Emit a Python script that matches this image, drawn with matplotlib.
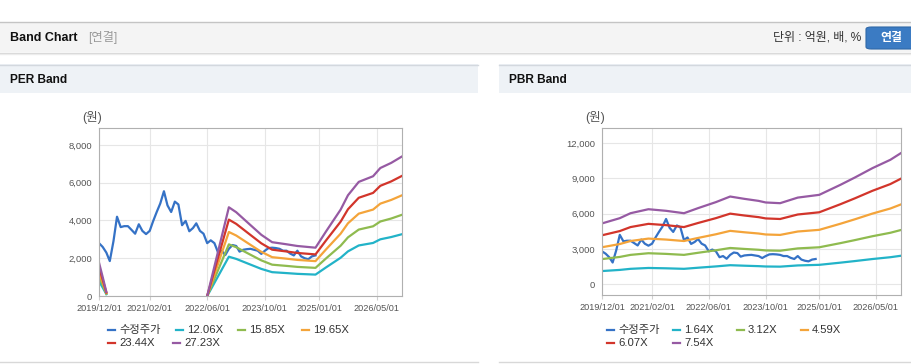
import pandas as pd
import numpy as np
import matplotlib
matplotlib.use('Agg')
import matplotlib.pyplot as plt
from matplotlib.patches import Rectangle, FancyBboxPatch
from matplotlib.lines import Line2D
from matplotlib.ticker import FuncFormatter

plt.rcParams['font.family'] = ['Liberation Sans', 'Noto Sans CJK KR']

# ---- 데이터 ----
# 수정주가 (월별, 2019/12 ~ 2024/12)
price_start = '2019-12-01'
price = [2800, 2600, 2300, 1850, 2900, 4200, 3650, 3700, 3700, 3500,
         3300, 3800, 3450, 3280, 3450, 3950, 4450, 4900, 5550, 4800,
         4450, 5000, 4850, 3750, 3980, 3430, 3600, 3850, 3450, 3300,
         2800, 2950, 2800, 2300, 2400, 2170, 2500, 2700, 2650, 2350,
         2450, 2480, 2500, 2450, 2400, 2230, 2400, 2540, 2560, 2540,
         2500, 2400, 2400, 2250, 2150, 2400, 2100, 2000, 1950, 2100, 2150]

# PER 밴드: EPS(원) x 배수
per_multiples = [12.06, 15.85, 19.65, 23.44, 27.23]
per_dates = ['2019-12-01', '2020-01-01', '2020-02-01', '2020-03-01',
             '2022-06-01', '2022-12-01', '2023-02-01', '2023-06-01', '2023-09-01',
             '2023-12-01', '2024-04-01', '2024-07-01', '2024-12-01', '2025-03-01',
             '2025-07-01', '2025-09-01', '2025-12-01', '2026-04-01', '2026-06-01',
             '2026-09-01', '2026-12-01']
per_eps = [65, 37, 8, np.nan,
           0, 172.6, 163, 138, 119,
           104.7, 100.6, 97.3, 94, 126,
           168, 196, 222, 233, 249,
           259, 271.5]

# PBR 밴드: BPS(원) x 배수
pbr_multiples = [1.64, 3.12, 4.59, 6.07, 7.54]
pbr_dates = ['2019-12-01', '2020-05-01', '2020-08-01', '2021-01-01', '2021-06-01',
             '2021-11-01', '2022-03-01', '2022-08-01', '2022-12-01', '2023-04-01',
             '2023-08-01', '2023-10-01', '2024-02-01', '2024-07-01', '2025-01-01',
             '2025-07-01', '2025-11-01', '2026-04-01', '2026-09-01', '2026-12-01']
pbr_bps = [686, 745, 801, 846, 828,
           801, 858, 926, 989, 963,
           940, 922, 914, 977, 1008,
           1121, 1203, 1309, 1403, 1479]

x_ticks = ['2019-12-01', '2021-02-01', '2022-06-01', '2023-10-01', '2025-01-01', '2026-05-01']
x_tick_labels = ['2019/12/01', '2021/02/01', '2022/06/01', '2023/10/01', '2025/01/01', '2026/05/01']

colors = ['#3572c6', '#22b3c8', '#8fbb4f', '#f4a43a', '#d2352b', '#965aa3']

W, H = 912, 364
fig = plt.figure(figsize=(W / 100, H / 100), dpi=100)
fig.patch.set_facecolor('white')


def rect(x0, y0, x1, y1, color):
    fig.add_artist(Rectangle((x0 / W, 1 - y1 / H), (x1 - x0) / W, (y1 - y0) / H,
                             transform=fig.transFigure, facecolor=color,
                             edgecolor='none', zorder=0))


def hline(x0, x1, y, color, lw=1.0):
    fig.add_artist(Line2D([x0 / W, x1 / W], [1 - y / H, 1 - y / H],
                          transform=fig.transFigure, color=color, lw=lw))


def text(x, y, s, **kw):
    fig.text(x / W, 1 - y / H, s, va='center', **kw)


# ---- 상단 헤더 ----
rect(0, 22, W, 52, '#f4f4f4')
hline(0, W, 21.5, '#c4c4c4')
hline(0, W, 52.5, '#d6d6d6')
hline(0, W, 53.5, '#ececec')
text(10, 38, 'Band Chart', fontsize=9, fontweight='bold', color='#111111')
text(88, 38, '[연결]', fontsize=8.8, color='#999999')
text(861, 38, '단위 : 억원, 배, %', fontsize=8.6, color='#333333', ha='right')
fig.add_artist(FancyBboxPatch((866 / W, 1 - 49 / H), 50 / W, 22 / H,
                              boxstyle='round,pad=0,rounding_size=0.006',
                              transform=fig.transFigure, facecolor='#3b7bc3',
                              edgecolor='#2f68a8', lw=0.8))
text(891, 38, '연결', fontsize=8.6, fontweight='bold', color='white', ha='center')

# ---- 패널 헤더 ----
for x0, x1, title in [(0, 478, 'PER Band'), (499, W, 'PBR Band')]:
    rect(x0, 64, x1, 93, '#eef2f6')
    hline(x0, x1, 64.5, '#d3d8de')
    hline(x0, x1, 361.5, '#d8d8d8')
    text(x0 + 10, 80, title, fontsize=8.6, fontweight='bold', color='#111111')


def style_axes(ax, yticks):
    for sp in ax.spines.values():
        sp.set_color('#b0b0b0')
        sp.set_linewidth(0.8)
    ax.set_xticks(pd.to_datetime(x_ticks))
    ax.set_xticklabels(x_tick_labels)
    ax.set_yticks(yticks)
    ax.yaxis.set_major_formatter(FuncFormatter(lambda v, p: f'{int(v):,}'))
    ax.grid(True, color='#e6e6e6', lw=0.8)
    ax.set_axisbelow(True)
    ax.tick_params(axis='x', length=3, color='#d0d0d0', labelsize=6.6,
                   labelcolor='#555555', pad=3)
    ax.tick_params(axis='y', length=0, labelsize=6.8, labelcolor='#555555', pad=5)
    ax.set_xlim(pd.Timestamp('2019-12-01'), pd.Timestamp('2026-12-01'))


price_dates = pd.date_range(price_start, periods=len(price), freq='MS')

# ---- PER Band ----
ax1 = fig.add_axes([99 / W, (H - 296) / H, 303 / W, 168 / H])
ax1.plot(price_dates, price, color=colors[0], lw=1.6)
for mult, c in zip(per_multiples, colors[1:]):
    ax1.plot(pd.to_datetime(per_dates), np.array(per_eps) * mult, color=c, lw=1.6)
ax1.set_ylim(0, 8900)
style_axes(ax1, [0, 2000, 4000, 6000, 8000])
text(82, 117, '(원)', fontsize=9, color='#555555')

# ---- PBR Band ----
ax2 = fig.add_axes([602 / W, (H - 295) / H, 299 / W, 167 / H])
ax2.plot(price_dates, price, color=colors[0], lw=1.6)
for mult, c in zip(pbr_multiples, colors[1:]):
    ax2.plot(pd.to_datetime(pbr_dates), np.array(pbr_bps) * mult, color=c, lw=1.6)
ax2.set_ylim(-910, 13280)
style_axes(ax2, [0, 3000, 6000, 9000, 12000])
text(585, 117, '(원)', fontsize=9, color='#555555')

# ---- 범례 ----
per_labels = ['수정주가'] + [f'{m:.2f}X' for m in per_multiples]
pbr_labels = ['수정주가'] + [f'{m:.2f}X' for m in pbr_multiples]
per_pos = [(108, 330), (176, 330), (238, 330), (302, 330), (108, 343), (173, 343)]
pbr_pos = [(607, 330), (673, 330), (737, 330), (801, 330), (607, 343), (673, 343)]
for labels, pos in [(per_labels, per_pos), (pbr_labels, pbr_pos)]:
    for lab, (x, y), c in zip(labels, pos, colors):
        fig.add_artist(Line2D([x / W, (x + 7) / W], [1 - y / H, 1 - y / H],
                              transform=fig.transFigure, color=c, lw=1.6))
        text(x + 11, y, lab, fontsize=8.1, color='#333333')

fig.savefig('out.png', dpi=100)
